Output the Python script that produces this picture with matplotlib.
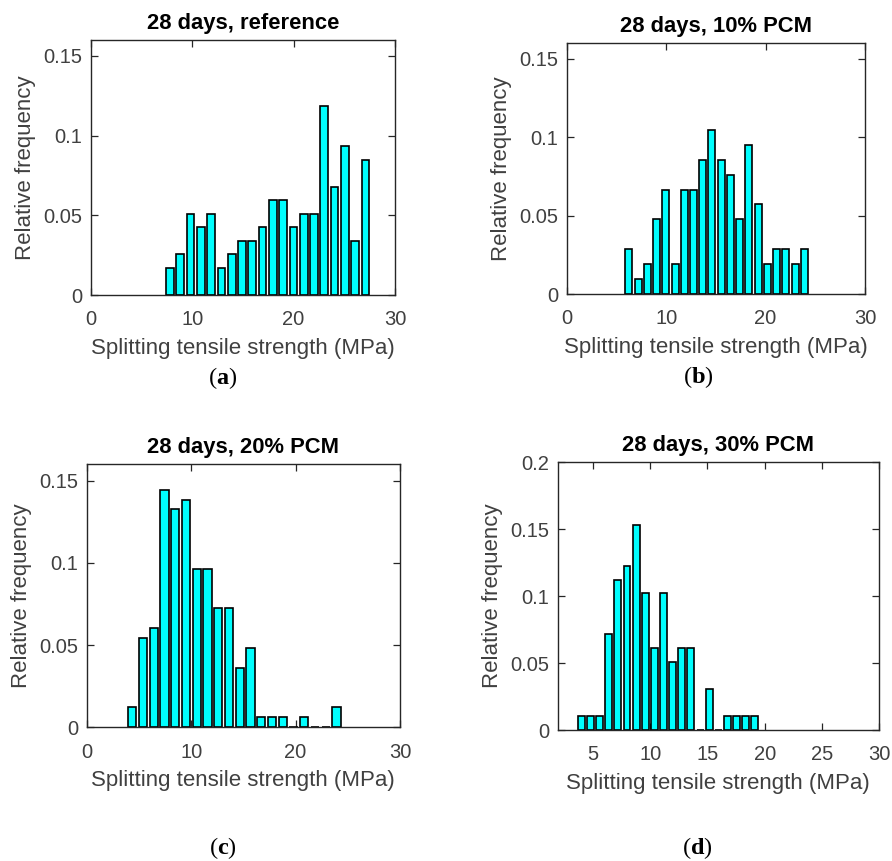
import numpy as np
import matplotlib
matplotlib.use("Agg")
import matplotlib.pyplot as plt

plt.rcParams["font.family"] = ["Liberation Sans", "DejaVu Sans"]
plt.rcParams["mathtext.fontset"] = "custom"
plt.rcParams["mathtext.rm"] = "Liberation Serif"
plt.rcParams["mathtext.bf"] = "Liberation Serif:bold"

# Histogram counts per bin (20 bins each) and bin ranges (MPa)
titles = ["28 days, reference", "28 days, 10% PCM", "28 days, 20% PCM", "28 days, 30% PCM"]
panel_tags = ["a", "b", "c", "d"]

counts_ref = [2, 3, 6, 5, 6, 2, 3, 4, 4, 5, 7, 7, 5, 6, 6, 14, 8, 11, 4, 10]
counts_10 = [3, 1, 2, 5, 7, 2, 7, 7, 9, 11, 9, 8, 5, 10, 6, 2, 3, 3, 2, 3]
counts_20 = [2, 9, 10, 24, 22, 23, 16, 16, 12, 12, 6, 8, 1, 1, 1, 0, 1, 0, 0, 2]
counts_30 = [1, 1, 1, 7, 11, 12, 15, 10, 6, 10, 5, 6, 6, 0, 3, 0, 1, 1, 1, 1]

range_ref = (7.31, 27.59)
range_10 = (5.79, 24.36)
range_20 = (3.84, 24.43)
range_30 = (3.57, 19.54)

xlims = [(0, 30), (0, 30), (0, 30), (1.9, 30)]
ylims = [(0, 0.16), (0, 0.16), (0, 0.16), (0, 0.2)]
xticks = [[0, 10, 20, 30], [0, 10, 20, 30], [0, 10, 20, 30], [5, 10, 15, 20, 25, 30]]
yticks = [[0, 0.05, 0.1, 0.15], [0, 0.05, 0.1, 0.15], [0, 0.05, 0.1, 0.15],
          [0, 0.05, 0.1, 0.15, 0.2]]

all_counts = [counts_ref, counts_10, counts_20, counts_30]
all_ranges = [range_ref, range_10, range_20, range_30]

W, H = 892, 861
fig = plt.figure(figsize=(W / 100, H / 100), dpi=100)

# axes boxes in pixels: left, top, right, bottom
boxes = [(90.7, 40, 395, 295), (566.7, 43.3, 865, 294),
         (86.7, 464.3, 400, 727.3), (557.7, 462.3, 879, 730)]
tag_pos = [(223, 378), (698, 377), (223, 848), (697, 848)]

axis_col = "#262626"
tick_col = "#404040"

for i in range(4):
    l, t, r, b = boxes[i]
    ax = fig.add_axes([l / W, 1 - b / H, (r - l) / W, (b - t) / H])
    c = np.asarray(all_counts[i], dtype=float)
    freq = c / c.sum()
    lo, hi = all_ranges[i]
    edges = np.linspace(lo, hi, len(c) + 1)
    centers = 0.5 * (edges[:-1] + edges[1:])
    step = edges[1] - edges[0]
    ax.bar(centers, freq, width=0.76 * step, color="#00ffff",
           edgecolor="black", linewidth=1.2, zorder=2)
    ax.set_xlim(*xlims[i])
    ax.set_ylim(*ylims[i])
    ax.set_xticks(xticks[i])
    ax.set_yticks(yticks[i])
    ax.set_yticklabels(["0" if v == 0 else ("%g" % v) for v in yticks[i]])
    ax.tick_params(direction="in", length=5, width=0.9, color=axis_col,
                   top=True, right=True, labelsize=14.5, labelcolor=tick_col)
    ax.tick_params(axis="x", pad=11)
    ax.tick_params(axis="y", pad=6)
    for s in ax.spines.values():
        s.set_color(axis_col)
        s.set_linewidth(1.0)
    ax.set_title(titles[i], fontsize=15.8, fontweight="bold", pad=8, color="black")
    ax.set_xlabel("Splitting tensile strength (MPa)", fontsize=16,
                  color=tick_col, labelpad=6)
    ax.set_ylabel("Relative frequency", fontsize=16, color=tick_col, labelpad=5)
    x, y = tag_pos[i]
    fig.text(x / W, 1 - y / H, r"$(\mathbf{%s})$" % panel_tags[i], fontsize=17.5,
             ha="center", va="center", color="black")

fig.savefig("out.png", dpi=100)
